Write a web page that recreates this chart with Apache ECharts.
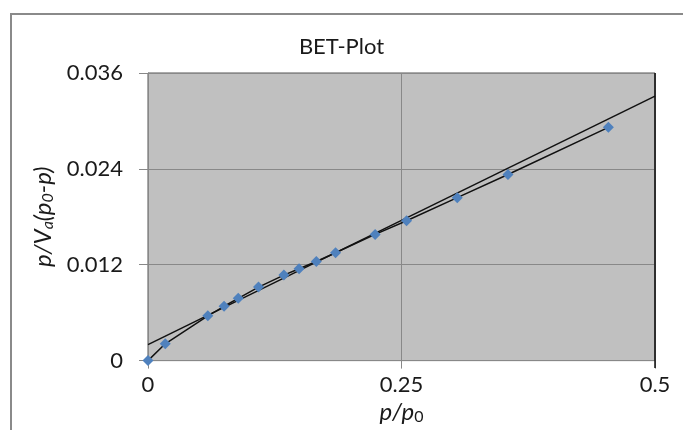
<!DOCTYPE html>
<html>
<head>
<meta charset="utf-8">
<script src="https://cdn.jsdelivr.net/npm/echarts@6/dist/echarts.min.js"></script>
<style>html,body{margin:0;padding:0;background:#fff;}#c{width:683px;height:430px;}</style>
</head>
<body>
<div id="c"></div>
<script>
const pRel = [0, 0.017, 0.059, 0.075, 0.089, 0.109, 0.134, 0.149, 0.166, 0.185, 0.224, 0.255, 0.305, 0.355, 0.454];
const betY = [0, 0.0021, 0.0056, 0.0068, 0.0078, 0.0092, 0.0107, 0.0115, 0.0124, 0.0135, 0.0158, 0.0175, 0.0204, 0.0233, 0.0292];
const trendX = [0, 0.5];
const trendY = [0.0020, 0.0331];
const xTicks = [0, 0.25, 0.5];
const yTicks = [0, 0.012, 0.024, 0.036];

const pts = pRel.map((x, i) => [x, betY[i]]);
const trend = trendX.map((x, i) => [x, trendY[i]]);
const font = 'Lato';
const chart = echarts.init(document.getElementById('c'), null, {renderer: 'canvas'});
chart.setOption({
  animation: false,
  backgroundColor: '#fff',
  title: {
    text: 'BET-Plot', left: 'center', top: 31,
    textStyle: {fontFamily: font, fontSize: 22, fontWeight: 'normal', color: '#1a1a1a'}
  },
  graphic: [{
    type: 'rect', shape: {x: 11, y: 14, width: 700, height: 450},
    style: {fill: null, stroke: '#8a8a8a', lineWidth: 2}, z: 0
  }, {
    type: 'line', shape: {x1: 655, y1: 73, x2: 655, y2: 368},
    style: {stroke: '#111', lineWidth: 1.5}, z: 10
  }],
  grid: {left: 148, right: 28, top: 73, bottom: 69, show: true, backgroundColor: '#c0c0c0', borderColor: '#555', borderWidth: 1},
  xAxis: {
    type: 'value', min: 0, max: 0.5, interval: 0.25,
    name: '{i|p/p}{s|0}', nameLocation: 'middle', nameGap: 36,
    nameTextStyle: {rich: {
      i: {fontFamily: font, fontStyle: 'italic', fontSize: 24, color: '#1a1a1a'},
      s: {fontFamily: font, fontSize: 16, color: '#1a1a1a', verticalAlign: 'bottom', padding: [9, 0, 0, 0]}
    }},
    axisLine: {show: true, onZero: false, lineStyle: {color: '#888', width: 1}},
    axisTick: {show: true, length: 8, lineStyle: {color: '#888'}},
    axisLabel: {fontFamily: font, fontSize: 22, color: '#1a1a1a', margin: 13,
      formatter: v => xTicks.includes(v) ? String(v) : ''},
    splitLine: {show: true, lineStyle: {color: '#888', width: 1}}
  },
  yAxis: {
    type: 'value', min: 0, max: 0.036, interval: 0.012,
    name: '{i|p/V}{s|a}{i|(p}{s|0}{i|-p)}', nameLocation: 'middle', nameGap: 87,
    nameTextStyle: {rich: {
      i: {fontFamily: font, fontStyle: 'italic', fontSize: 24, color: '#1a1a1a'},
      s: {fontFamily: font, fontStyle: 'italic', fontSize: 16, color: '#1a1a1a', verticalAlign: 'bottom', padding: [9, 0, 0, 0]}
    }},
    axisLine: {show: true, onZero: false, lineStyle: {color: '#888', width: 1}},
    axisTick: {show: true, length: 9, lineStyle: {color: '#888'}},
    axisLabel: {fontFamily: font, fontSize: 22, color: '#1a1a1a', margin: 25,
      formatter: v => { const t = yTicks.find(k => Math.abs(k - v) < 1e-9); return t === undefined ? '' : String(t); }},
    splitLine: {show: true, lineStyle: {color: '#888', width: 1}}
  },
  series: [{
    type: 'line', data: trend, symbol: 'none', z: 3,
    lineStyle: {color: '#111', width: 1.5}
  }, {
    type: 'line', data: pts, symbol: 'diamond', symbolSize: 11, z: 4,
    itemStyle: {color: '#4f81bd'},
    lineStyle: {color: '#111', width: 1.5}
  }]
});
</script>
</body>
</html>
